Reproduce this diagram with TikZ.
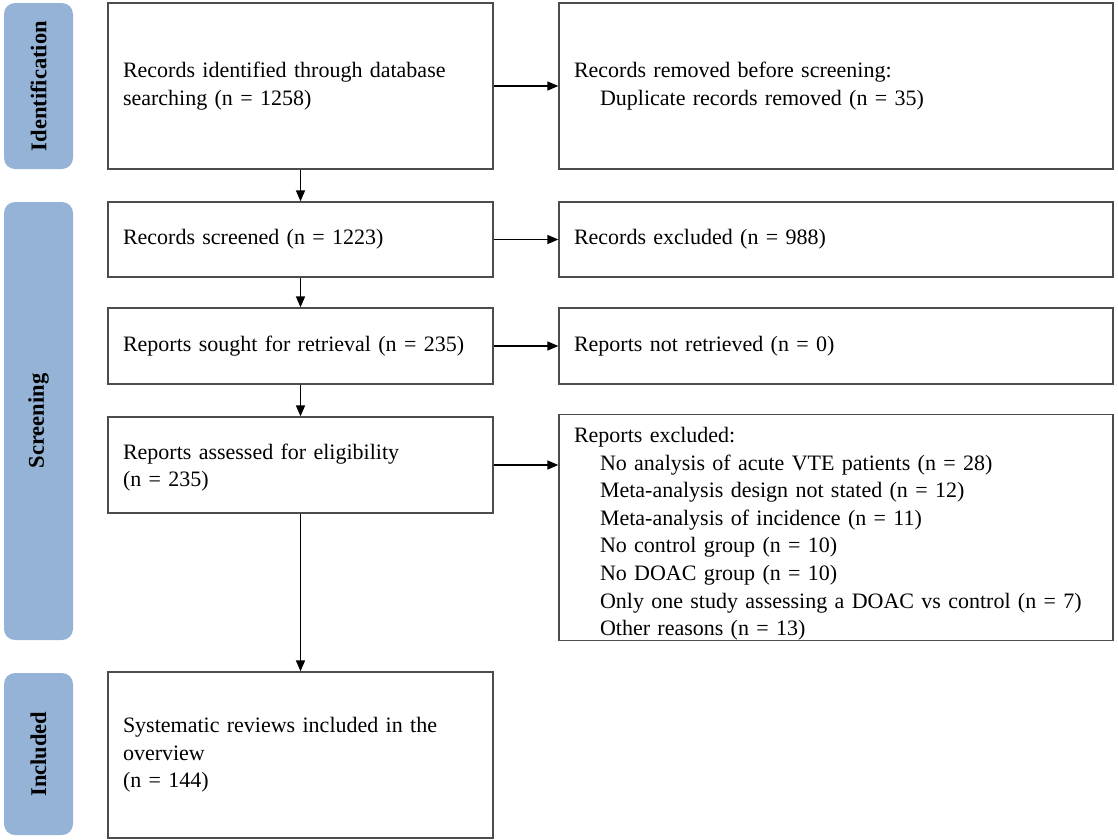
\documentclass[tikz,border=0pt]{standalone}
\usepackage{fontspec}
\setmainfont{Liberation Serif}
\usetikzlibrary{arrows.meta}
\definecolor{phase}{RGB}{149,179,215}
\begin{document}
\begin{tikzpicture}[x=1pt,y=-1pt,
  box/.style={draw=black!70, line width=1.3pt, rectangle, inner xsep=15pt, inner ysep=0pt, align=left, font=\fontsize{22}{27.6}\selectfont},
  lbox/.style={box, minimum width=385pt, text width=355pt},
  rbox/.style={box, minimum width=554pt, text width=524pt},
  phasebar/.style={fill=phase, rounded corners=11pt, draw=none, inner sep=0pt, minimum height=69pt, font=\bfseries\fontsize{22.5}{26}\selectfont, rotate=90},
  arr/.style={-{Triangle[length=11pt,width=9pt]}, line width=1.5pt}]
\useasboundingbox (0,0) rectangle (1118,839);

% phase bars
\node[phasebar, minimum width=166pt] (pid) at (38.5,86) {Identification};
\node[phasebar, minimum width=438pt] (pscr) at (38.5,421) {Screening};
\node[phasebar, minimum width=162pt] (pinc) at (38.5,754) {Included};

% left column
\node[lbox, minimum height=166pt] (L1) at (300.5,86) {Records identified through database searching (n = 1258)};
\node[lbox, minimum height=75pt] (L2) at (300.5,239.5) {Records screened (n = 1223)};
\node[lbox, minimum height=76pt] (L3) at (300.5,346) {Reports sought for retrieval (n = 235)};
\node[lbox, minimum height=96pt] (L4) at (300.5,465) {\rule{0pt}{21pt}Reports assessed for eligibility\\(n = 235)};
\node[lbox, minimum height=166pt] (L5) at (300.5,755) {Systematic reviews included in the overview\\(n = 144)};

% right column
\node[rbox, minimum height=166pt] (R1) at (836,86) {Records removed before screening:\\\hspace*{26pt}Duplicate records removed (n = 35)};
\node[rbox, minimum height=75pt] (R2) at (836,239.5) {Records excluded (n = 988)};
\node[rbox, minimum height=76pt] (R3) at (836,346) {Reports not retrieved (n = 0)};
\node[rbox, minimum height=225pt] (R4) at (836,527.5) {\rule{0pt}{28pt}Reports excluded:\\
\hspace*{26pt}No analysis of acute VTE patients (n = 28)\\
\hspace*{26pt}Meta-analysis design not stated (n = 12)\\
\hspace*{26pt}Meta-analysis of incidence (n = 11)\\
\hspace*{26pt}No control group (n = 10)\\
\hspace*{26pt}No DOAC group (n = 10)\\
\hspace*{26pt}Only one study assessing a DOAC vs control (n = 7)\\
\hspace*{26pt}Other reasons (n = 13)};

% arrows
\draw[arr] (L1) -- (L2);
\draw[arr] (L2) -- (L3);
\draw[arr] (L3) -- (L4);
\draw[arr] (L4) -- (L5);
\draw[arr] (L1) -- (R1);
\draw[arr] (L2) -- (R2);
\draw[arr] (L3) -- (R3);
\draw[arr] (L4.east) -- (L4.east -| R4.west);
\end{tikzpicture}
\end{document}
